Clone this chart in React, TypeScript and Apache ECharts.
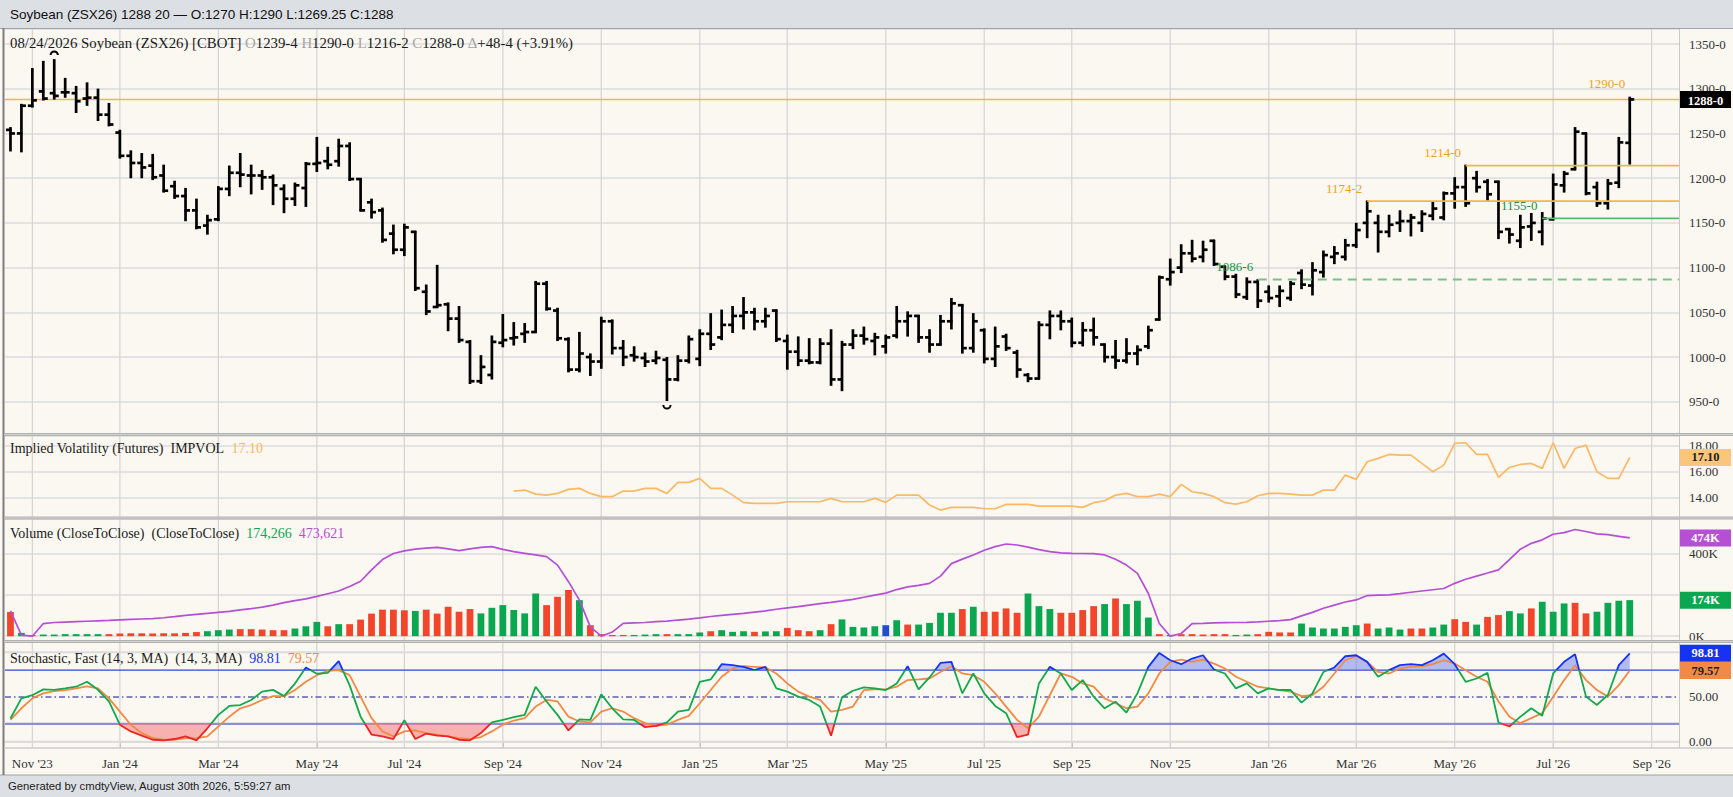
import React, { useEffect, useRef } from "react";
import * as echarts from "echarts";

// ---------- DATA ----------
const START_DATE = "2023-10-23"; // first weekly bar (Monday)
const CATEGORY_COUNT = 153; // 149 bars + 4 empty future weeks

// weekly OHLC [open, high, low, close]
const priceBars: number[][] = [
  [1254, 1256, 1231, 1250], [1250, 1282, 1230, 1281], [1281, 1322, 1280, 1287], [1297, 1330, 1288, 1289], [1295, 1332, 1289, 1292],
  [1296, 1311, 1291, 1296], [1295, 1302, 1274, 1286], [1289, 1306, 1282, 1290], [1290, 1299, 1265, 1271], [1271, 1283, 1259, 1260],
  [1251, 1253, 1223, 1225], [1225, 1230, 1201, 1217], [1217, 1227, 1201, 1212], [1214, 1226, 1199, 1201], [1203, 1214, 1185, 1186],
  [1191, 1196, 1178, 1180], [1180, 1188, 1153, 1164], [1164, 1176, 1144, 1145], [1147, 1158, 1138, 1153], [1154, 1190, 1153, 1188],
  [1188, 1213, 1181, 1206], [1206, 1227, 1191, 1204], [1203, 1214, 1183, 1203], [1203, 1208, 1188, 1201], [1201, 1203, 1171, 1192],
  [1188, 1192, 1162, 1177], [1177, 1194, 1170, 1192], [1189, 1217, 1169, 1216], [1216, 1245, 1208, 1217], [1219, 1234, 1211, 1215],
  [1219, 1243, 1214, 1236], [1236, 1239, 1198, 1199], [1199, 1199, 1164, 1164], [1173, 1176, 1156, 1162], [1164, 1166, 1129, 1131],
  [1138, 1147, 1116, 1120], [1120, 1148, 1114, 1145], [1140, 1140, 1075, 1077], [1073, 1080, 1048, 1051], [1056, 1102, 1056, 1058],
  [1059, 1060, 1030, 1043], [1043, 1056, 1017, 1019], [1017, 1018, 971, 973], [973, 1001, 971, 989], [980, 1023, 976, 1017],
  [1016, 1047, 1012, 1019], [1021, 1038, 1014, 1022], [1026, 1037, 1017, 1028], [1028, 1084, 1028, 1082], [1082, 1084, 1053, 1054],
  [1052, 1054, 1019, 1021], [1020, 1021, 984, 986], [986, 1027, 984, 1004], [1000, 1003, 980, 995], [995, 1044, 988, 1040],
  [1040, 1041, 1004, 1010], [1010, 1018, 991, 1000], [1002, 1011, 996, 1000], [999, 1004, 990, 995], [996, 1006, 993, 999],
  [997, 999, 952, 975], [975, 1001, 974, 996], [996, 1023, 994, 1020], [998, 1030, 991, 1026], [1026, 1048, 1009, 1014],
  [1022, 1052, 1020, 1036], [1036, 1056, 1028, 1046], [1046, 1066, 1032, 1050], [1050, 1054, 1031, 1040], [1040, 1054, 1034, 1046],
  [1052, 1052, 1018, 1020], [1018, 1024, 987, 1006], [1006, 1022, 991, 996], [996, 1020, 993, 994], [994, 1020, 993, 1015],
  [1015, 1030, 969, 975], [975, 1017, 963, 1014], [1014, 1030, 1010, 1024], [1024, 1033, 1015, 1020], [1018, 1026, 1003, 1022],
  [1012, 1024, 1005, 1022], [1024, 1056, 1022, 1040], [1040, 1050, 1024, 1046], [1046, 1046, 1017, 1022], [1022, 1030, 1006, 1014],
  [1014, 1046, 1014, 1040], [1040, 1065, 1032, 1060], [1058, 1058, 1005, 1010], [1010, 1048, 1006, 1040], [1030, 1031, 994, 998],
  [998, 1033, 990, 1012], [1023, 1025, 1008, 1010], [1005, 1007, 978, 986], [980, 981, 973, 976], [976, 1039, 976, 1036],
  [1036, 1051, 1021, 1046], [1046, 1051, 1031, 1040], [1040, 1043, 1012, 1016], [1016, 1038, 1013, 1030], [1030, 1043, 1014, 1022],
  [1014, 1014, 995, 1000], [1000, 1018, 988, 996], [996, 1020, 994, 1004], [1004, 1012, 992, 1008], [1012, 1034, 1010, 1030],
  [1042, 1090, 1042, 1089], [1087, 1109, 1081, 1095], [1100, 1125, 1095, 1116], [1116, 1130, 1107, 1110], [1112, 1129, 1107, 1120],
  [1130, 1130, 1103, 1104], [1101, 1101, 1087, 1090], [1090, 1092, 1067, 1070], [1067, 1088, 1065, 1084], [1084, 1086, 1056, 1063],
  [1073, 1079, 1062, 1066], [1068, 1079, 1057, 1074], [1066, 1084, 1064, 1082], [1094, 1097, 1077, 1081], [1080, 1105, 1070, 1097],
  [1095, 1118, 1090, 1114], [1112, 1123, 1105, 1116], [1112, 1131, 1109, 1125], [1125, 1149, 1123, 1142], [1150, 1174, 1134, 1163],
  [1150, 1158, 1118, 1140], [1140, 1158, 1135, 1148], [1150, 1163, 1141, 1152], [1152, 1159, 1136, 1156], [1150, 1163, 1141, 1160],
  [1158, 1173, 1154, 1166], [1156, 1184, 1154, 1183], [1183, 1200, 1167, 1190], [1190, 1214, 1169, 1172], [1200, 1207, 1185, 1190],
  [1196, 1198, 1176, 1182], [1196, 1196, 1133, 1140], [1143, 1143, 1128, 1137], [1130, 1158, 1123, 1145], [1146, 1160, 1131, 1150],
  [1140, 1161, 1126, 1155], [1154, 1204, 1154, 1193], [1192, 1207, 1185, 1205], [1210, 1256, 1210, 1252], [1250, 1250, 1182, 1183],
  [1190, 1195, 1169, 1172], [1172, 1198, 1166, 1194], [1195, 1245, 1190, 1240], [1239.5, 1290, 1216.25, 1288],
];

// weekly volume, thousands
const volumeK: number[] = [
  117, 16, 5, 8, 8, 10, 10, 10, 10, 10,
  13, 14, 14, 13, 14, 14, 16, 20, 24, 29,
  32, 34, 34, 32, 29, 29, 37, 48, 69, 48,
  58, 58, 80, 109, 128, 128, 125, 122, 128, 109,
  142, 118, 131, 110, 137, 150, 126, 110, 206, 150,
  190, 223, 174, 53, 10, 6, 6, 6, 8, 10,
  10, 10, 10, 18, 24, 29, 21, 24, 21, 23,
  24, 40, 29, 24, 29, 58, 81, 45, 42, 48,
  53, 77, 56, 56, 64, 113, 113, 131, 142, 118,
  118, 134, 113, 206, 145, 131, 113, 113, 126, 145,
  155, 182, 155, 171, 90, 10, 6, 10, 10, 8,
  10, 10, 6, 8, 10, 21, 18, 18, 61, 42,
  37, 37, 45, 53, 61, 37, 42, 32, 37, 37,
  42, 56, 82, 69, 56, 93, 102, 121, 110, 134,
  166, 118, 158, 161, 110, 118, 161, 171, 174,
];
// close-to-close colour of each volume bar: G up, R down, B unchanged
const volumeDir =
  "RGRGGGGGGR" + "RRRRRRRRGG" + "GRRRRRGGGR" + "GRRRRRRGRR" + "RRRGGGGGGR" +
  "RRGRRRRGGG" + "RGGGRGGGRG" + "GRRRGRGGGG" + "BGRGGGGRGR" + "RRRGGGRRRR" +
  "GRGGGRGRRR" + "RRGGRRRRGG" + "GGGGRGGGRR" + "GGRRGRRGGR" + "GGGRRGGGG";

// open interest, thousands
const openInterestK: number[] = [
  122, 5, 0, 61, 66, 68, 70, 72, 74, 76,
  79, 81, 83, 85, 89, 94, 100, 105, 110, 115,
  120, 127, 133, 140, 150, 162, 172, 180, 192, 205,
  218, 240, 265, 320, 370, 399, 412, 420, 425, 429,
  421, 413, 421, 429, 432, 419, 408, 400, 392, 384,
  343, 263, 174, 45, 0, 20, 62, 64, 66, 70,
  73, 78, 82, 88, 95, 100, 105, 110, 116, 122,
  130, 137, 143, 150, 157, 163, 170, 178, 188, 198,
  208, 225, 238, 245, 255, 290, 350, 372, 392, 415,
  432, 445, 440, 430, 418, 408, 402, 400, 399, 398,
  392, 371, 343, 303, 206, 61, 0, 13, 61, 62,
  64, 65, 66, 67, 69, 72, 75, 80, 98, 115,
  135, 150, 165, 175, 196, 198, 199, 205, 212, 218,
  224, 230, 255, 275, 290, 305, 320, 370, 420, 448,
  465, 492, 500, 515, 505, 494, 490, 482, 474,
];

// implied volatility, starting at week index IV_START
const IV_START = 46;
const impliedVol: number[] = [
  14.51, 14.59, 14.28, 14.2, 14.33, 14.64, 14.72, 14.33, 14.08, 14.08,
  14.51, 14.51, 14.72, 14.72, 14.33, 15.18, 15.18, 15.49, 14.72, 14.72,
  14.2, 13.62, 13.56, 13.56, 13.56, 13.69, 13.69, 13.69, 13.69, 13.95,
  13.69, 13.69, 13.69, 13.95, 13.64, 14.2, 14.2, 14.2, 13.44, 13.05,
  13.26, 13.26, 13.26, 13.15, 13.15, 13.49, 13.49, 13.49, 13.36, 13.36,
  13.36, 13.36, 13.26, 13.62, 13.77, 14.2, 14.33, 14.08, 14.08, 14.28,
  14.08, 15.03, 14.46, 14.33, 14.08, 13.62, 13.51, 13.69, 14.15, 14.33,
  14.33, 14.28, 14.2, 14.2, 14.59, 14.59, 15.74, 15.41, 16.77, 17.03,
  17.33, 17.28, 17.28, 16.64, 16.0, 16.51, 18.18, 18.23, 17.33, 17.33,
  15.56, 16.33, 16.56, 16.64, 16.26, 18.23, 16.26, 17.79, 18.05, 16.0,
  15.49, 15.49, 17.1,
];

// Stochastic fast %K and %D
const stochK: number[] = [
  26, 48.5, 52, 58.5, 58, 59.6, 61.5, 67, 58, 45,
  19, 11.5, 6.7, 2.2, 1.5, 3, 6, 1.5, 15, 30,
  40, 41, 46.7, 56, 58, 51, 65, 83, 76, 77,
  90, 63, 28, 8, 6, 3, 24, 3, 9, 6.7,
  6, 2.2, 1.5, 9.6, 21.5, 24.4, 27.4, 30, 61.5, 45,
  30, 12.6, 25, 24.4, 53, 37.4, 25, 24.4, 16.3, 17.8,
  21.5, 33.7, 35.6, 67, 69.6, 86.7, 85.6, 83.7, 80, 83.7,
  59.6, 56, 50.4, 46.7, 39.3, 6.7, 49.6, 57, 60.7, 59.6,
  57.8, 65.2, 84.4, 58.5, 71.9, 88.1, 89.3, 54, 76.3, 54,
  40, 31.9, 5.2, 7.8, 65.2, 83.7, 76.3, 57.8, 68.9, 50.4,
  37.4, 44.8, 32.6, 54, 83.7, 99.3, 91.1, 86.7, 93, 96.7,
  80.7, 76.3, 59.6, 65.2, 54, 59.6, 57.8, 57.8, 43.7, 54,
  78, 83, 95.6, 96.7, 89.3, 72.6, 80, 85.6, 86.7, 85.6,
  91.1, 98.5, 86.7, 67, 70.7, 77, 21.5, 17, 28, 37.4,
  29, 76.3, 89.3, 97.8, 50.4, 41.1, 52.2, 85.6, 98.81,
];
const stochD: number[] = [
  24.4, 37.4, 48.5, 54, 56.7, 57.8, 59.6, 62, 59.6, 48.5,
  33.7, 19, 9.6, 4, 2.2, 2.2, 3.7, 4, 6, 17,
  28, 37.4, 41, 46.7, 51, 51, 57.8, 67, 74.4, 79.3,
  80, 74.4, 50.4, 26.3, 11.5, 6, 11.5, 12.6, 9.6, 7.8,
  6, 4, 3, 5.2, 11.5, 19, 23.7, 26.3, 39.3, 46.7,
  45, 28, 22.6, 21.5, 33.7, 37.4, 33.7, 26.3, 20.7, 17.8,
  19, 24.4, 28.9, 43, 57.8, 72.6, 81.9, 84.4, 83.7, 83,
  76.3, 65.2, 56, 50.4, 46.7, 33.7, 35.6, 39.3, 57.8, 58.5,
  58.5, 61.5, 68.9, 69.6, 70.7, 78, 84.4, 76.3, 74.4, 67,
  54, 39.3, 24.4, 15, 28, 52.2, 76.3, 72.6, 65.2, 61.5,
  48.5, 43, 37.4, 39.3, 54, 76.3, 89.3, 91.9, 89.3, 91.9,
  87.4, 81.9, 72.6, 67, 61.5, 59.6, 57.8, 56, 51, 52.2,
  61.5, 76.3, 91.1, 95.6, 89.3, 78, 76.3, 81.9, 83.7, 84.4,
  86.7, 91.1, 87.4, 80, 72.6, 67, 45, 28, 20.7, 26.3,
  31.9, 50.4, 68.9, 85.6, 68.9, 57.8, 50.4, 63.3, 79.57,
];

// marked price levels (week index where the line starts)
const priceMarks = [
  { idx: 114, value: 1086.75, line: "#7dbf8c", text: "#1d8f3e", dashed: true },
  { idx: 124, value: 1174.25, line: "#f8b445", text: "#f3a11b", dashed: false },
  { idx: 133, value: 1214, line: "#f8b445", text: "#f3a11b", dashed: false },
  { idx: 140, value: 1155, line: "#5cb86b", text: "#1d8f3e", dashed: false },
];
const LAST_PRICE = 1288;
const LAST_HIGH = 1290;
const stochLevels = [
  { v: 100, color: "#dcdcdc", width: 2, dash: null as any },
  { v: 0, color: "#dcdcdc", width: 2, dash: null as any },
  { v: 80, color: "#3246d3", width: 1.3, dash: null as any },
  { v: 20, color: "#8a8fd8", width: 2.2, dash: null as any },
  { v: 50, color: "#5b5fae", width: 1.3, dash: [6, 3, 1.5, 3] as any },
];
const stochTickLabels = [0, 50];
const MONTHS = ["Jan", "Feb", "Mar", "Apr", "May", "Jun", "Jul", "Aug", "Sep", "Oct", "Nov", "Dec"];

// ---------- derived categories ----------
const dates: string[] = [];
{
  const t0 = Date.parse(START_DATE + "T00:00:00Z");
  for (let i = 0; i < CATEGORY_COUNT; i++) dates.push(new Date(t0 + i * 7 * 86400000).toISOString().slice(0, 10));
}
const tickIdx: number[] = [];
dates.forEach((s, i) => {
  const m = +s.slice(5, 7);
  const d = +s.slice(8, 10);
  if (m % 2 === 1 && d <= 7) tickIdx.push(i);
});
const tickSet = new Set(tickIdx);
const tickFn = (index: number) => tickSet.has(index);
const fmtDate = (s: string) => `${MONTHS[+s.slice(5, 7) - 1]} '${s.slice(2, 4)}`;
const fmtPrice = (v: number) => {
  const w = Math.floor(v + 1e-9);
  return `${w}-${Math.round((v - w) * 8)}`;
};

let HIGH_IDX = 0;
let LOW_IDX = 0;
priceBars.forEach((b, i) => {
  if (b[1] > priceBars[HIGH_IDX][1]) HIGH_IDX = i;
  if (b[2] < priceBars[LOW_IDX][2]) LOW_IDX = i;
});

// ---------- layout ----------
const W = 1733;
const H = 797;
const PLOT_L = 5;
const PLOT_R = 1679;
const SERIF = '"Liberation Serif", "Times New Roman", serif';
const SANS = '"Liberation Sans", Arial, Helvetica, sans-serif';
const gridDefs = [
  { top: 29, bottom: 435, min: 912.88, max: 1366.77, split: 9 },
  { top: 436, bottom: 518, min: 12.44, max: 18.75, split: 3 },
  { top: 519, bottom: 641, min: -23.2, max: 565.5, split: 3 },
  { top: 643, bottom: 748, min: -7.05, max: 110.4, split: 2 },
];

const GREEN = "#0ba650";
const RED = "#f1462c";
const BLUE_BAR = "#1f4fd1";
const PURPLE = "#b54fd3";
const IV_COLOR = "#fbb965";
const K_BLUE = "#1733f2";
const D_ORANGE = "#f28a45";
const CLEAR = "rgba(255,255,255,0)";

function renderBar(params: any, api: any) {
  const i = api.value(0);
  const o = api.value(1);
  const h = api.value(2);
  const l = api.value(3);
  const c = api.value(4);
  const top = api.coord([i, h]);
  const bot = api.coord([i, l]);
  const yo = api.coord([i, o])[1];
  const yc = api.coord([i, c])[1];
  const x = top[0];
  const st = { stroke: "#000", lineWidth: 2.7 };
  const children: any[] = [
    { type: "line", shape: { x1: x, y1: top[1] - 1, x2: x, y2: bot[1] + 1 }, style: st },
    { type: "line", shape: { x1: x - 4.5, y1: yo, x2: x + 1, y2: yo }, style: st },
    { type: "line", shape: { x1: x - 1, y1: yc, x2: x + 4.5, y2: yc }, style: st },
  ];
  if (i === HIGH_IDX) {
    children.push({
      type: "arc",
      shape: { cx: x, cy: top[1] - 5, r: 3.6, startAngle: Math.PI, endAngle: Math.PI * 2 },
      style: { stroke: "#000", lineWidth: 2, fill: "none" },
    });
  }
  if (i === LOW_IDX) {
    children.push({
      type: "arc",
      shape: { cx: x, cy: bot[1] + 5, r: 3.6, startAngle: 0, endAngle: Math.PI },
      style: { stroke: "#000", lineWidth: 2, fill: "none" },
    });
  }
  return { type: "group", children };
}

function buildOption(): any {
  const axisLabelBase = { color: "#333", fontFamily: SERIF, fontSize: 13, margin: 10, align: "left", showMinLabel: true, showMaxLabel: true };
  const yFormatters = [
    (v: number) => (Math.abs(v % 50) < 1e-6 ? fmtPrice(v) : ""),
    (v: number) => (Math.abs(v % 2) < 1e-6 ? v.toFixed(2) : ""),
    (v: number) => (Math.abs(v) < 1e-6 || Math.abs(v - 400) < 1e-6 ? `${Math.round(v)}K` : ""),
    (v: number) => "",
  ];
  const kData = stochK.map((v, i) => [i, v]);
  const dData = stochD.map((v, i) => [i, v]);
  return {
    animation: false,
    backgroundColor: "#faf8f1",
    grid: gridDefs.map((g) => ({ left: PLOT_L, width: PLOT_R - PLOT_L, top: g.top, height: g.bottom - g.top, containLabel: false })),
    xAxis: gridDefs.map((g, gi) => ({
      type: "category",
      gridIndex: gi,
      data: dates,
      boundaryGap: true,
      axisLine: { show: gi === 3, lineStyle: { color: "#cfcfcf", width: 1.5 } },
      axisTick: { show: gi === 3, alignWithLabel: true, interval: tickFn, length: 6, lineStyle: { color: "#b5b5b5" } },
      axisLabel: { show: gi === 3, interval: tickFn, formatter: fmtDate, color: "#333", fontFamily: SERIF, fontSize: 13, margin: 9 },
      splitLine: { show: false },
    })),
    yAxis: gridDefs.map((g, gi) => ({
      type: "value",
      gridIndex: gi,
      position: "right",
      min: g.min,
      max: g.max,
      splitNumber: g.split,
      axisLine: { show: false },
      axisTick: { show: false },
      axisLabel: { ...axisLabelBase, show: gi !== 3, formatter: yFormatters[gi] },
      splitLine: { show: gi !== 3, lineStyle: { color: "#e3e3e3", width: 2 } },
    })),
    visualMap: [
      {
        type: "piecewise", show: false, seriesIndex: 6, dimension: 1,
        pieces: [{ lt: 20, color: "#ee2424" }, { gte: 20, lte: 80, color: "#13a84c" }, { gt: 80, color: K_BLUE }],
      },
      {
        type: "piecewise", show: false, seriesIndex: 4, dimension: 1,
        pieces: [{ lte: 80, color: CLEAR }, { gt: 80, lte: 1000, color: "rgba(104,126,238,0.5)" }],
      },
      {
        type: "piecewise", show: false, seriesIndex: 5, dimension: 1,
        pieces: [{ gte: -1000, lt: 20, color: "rgba(245,130,130,0.6)" }, { gte: 20, color: CLEAR }],
      },
    ],
    series: [
      {
        type: "custom",
        name: "Soybean",
        xAxisIndex: 0,
        yAxisIndex: 0,
        data: priceBars.map((b, i) => [i, b[0], b[1], b[2], b[3]]),
        encode: { x: 0, y: [1, 2, 3, 4] },
        renderItem: renderBar,
        z: 4,
      },
      {
        type: "line",
        name: "IMPVOL",
        xAxisIndex: 1,
        yAxisIndex: 1,
        data: impliedVol.map((v, k) => [IV_START + k, v]),
        symbol: "none",
        lineStyle: { color: IV_COLOR, width: 1.7 },
      },
      {
        type: "bar",
        name: "Volume",
        xAxisIndex: 2,
        yAxisIndex: 2,
        barWidth: "62%",
        data: volumeK.map((v, i) => ({
          value: v,
          itemStyle: { color: volumeDir[i] === "G" ? GREEN : volumeDir[i] === "R" ? RED : BLUE_BAR },
        })),
      },
      {
        type: "line",
        name: "Open Interest",
        xAxisIndex: 2,
        yAxisIndex: 2,
        data: openInterestK,
        symbol: "none",
        lineStyle: { color: PURPLE, width: 1.7 },
        z: 3,
      },
      {
        type: "line",
        name: "K above",
        xAxisIndex: 3,
        yAxisIndex: 3,
        data: kData,
        symbol: "none",
        silent: true,
        lineStyle: { opacity: 0, width: 0 },
        areaStyle: { origin: "start", opacity: 1 },
        z: 2,
      },
      {
        type: "line",
        name: "K below",
        xAxisIndex: 3,
        yAxisIndex: 3,
        data: kData,
        symbol: "none",
        silent: true,
        lineStyle: { opacity: 0, width: 0 },
        areaStyle: { origin: "end", opacity: 1 },
        z: 2,
      },
      {
        type: "line",
        name: "%K",
        xAxisIndex: 3,
        yAxisIndex: 3,
        data: kData,
        symbol: "none",
        lineStyle: { width: 1.8 },
        z: 5,
      },
      {
        type: "line",
        name: "%D",
        xAxisIndex: 3,
        yAxisIndex: 3,
        data: dData,
        symbol: "none",
        lineStyle: { color: D_ORANGE, width: 1.8 },
        z: 4,
      },
    ],
  };
}

function textEl(x: number, y: number, text: string, font: string, fill: string, align = "left", z = 20, extra: any = {}) {
  return {
    type: "text",
    x,
    y,
    z,
    silent: true,
    style: { text, font, fill, align, textAlign: align, verticalAlign: "middle", textVerticalAlign: "middle", ...extra },
  };
}

function lineEl(x1: number, y1: number, x2: number, y2: number, stroke: string, lineWidth: number, z = 15, dash: any = null) {
  const style: any = { stroke, lineWidth };
  if (dash) style.lineDash = dash;
  return { type: "line", z, silent: true, shape: { x1, y1, x2, y2 }, style };
}

function boxEl(y: number, text: string, bg: string, fg: string, textDy = 0) {
  return [
    { type: "rect", z: 30, silent: true, shape: { x: 1680, y: y - 8.5, width: 51, height: 17 }, style: { fill: bg } },
    textEl(1705.5, y + textDy, text, `bold 12.5px ${SERIF}`, fg, "center", 31),
  ];
}

function buildGraphics(chart: any): any[] {
  const P = (g: number, i: number, v: number): number[] => {
    const r = chart.convertToPixel({ xAxisIndex: g, yAxisIndex: g }, [i, v]);
    return Array.isArray(r) ? r : [0, 0];
  };
  const els: any[] = [];

  // vertical month grid lines
  gridDefs.forEach((g, gi) => {
    tickIdx.forEach((i) => {
      const x = P(gi, i, g.min)[0];
      els.push(lineEl(x, g.top, x, g.bottom, "#d6d6d6", 1.3, 1));
    });
  });

  // stochastic reference levels and their labels
  stochLevels.forEach((s) => {
    const y = P(3, 0, s.v)[1];
    els.push(lineEl(PLOT_L, y, PLOT_R, y, s.color, s.width, 1, s.dash));
  });
  stochTickLabels.forEach((v) => {
    const y = P(3, 0, v)[1];
    els.push(textEl(PLOT_R + 10, y, v.toFixed(2), `13px ${SERIF}`, "#333", "left", 20));
  });

  // last price line
  {
    const y = P(0, 0, LAST_PRICE)[1];
    els.push(lineEl(PLOT_L, y, PLOT_R, y, "#f8b445", 1.6, 2));
  }

  // title bar & footer
  els.push({ type: "rect", z: 10, silent: true, shape: { x: 0, y: 0, width: W, height: 28 }, style: { fill: "#dcdfe3" } });
  els.push(lineEl(0, 28.5, W, 28.5, "#9ea3a8", 1, 11));
  els.push(textEl(10, 14.5, "Soybean (ZSX26) 1288 20 \u2014 O:1270 H:1290 L:1269.25 C:1288", `13.5px ${SANS}`, "#111"));
  els.push({ type: "rect", z: 10, silent: true, shape: { x: 0, y: 775, width: W, height: 22 }, style: { fill: "#dcdfe3" } });
  els.push(lineEl(0, 775, W, 775, "#9ea3a8", 1, 11));
  els.push(textEl(8, 786, "Generated by cmdtyView, August 30th 2026, 5:59:27 am", `11.3px ${SANS}`, "#222"));

  // frame and separators
  els.push(lineEl(3.5, 28, 3.5, 775, "#7d7d7d", 2, 12));
  els.push(lineEl(PLOT_R + 0.5, 29, PLOT_R + 0.5, 748, "#c9c9c9", 1, 12));
  [434.5, 518, 641.5].forEach((y) => {
    els.push(lineEl(4, y, W, y, "#b1b1b1", 3, 12));
    els.push(lineEl(4, y, W, y, "#d9d9d9", 0.8, 13));
  });
  els.push(lineEl(4, 748, W, 748, "#cdcdcd", 1.5, 12));

  // panel captions
  const rich = (extra: any, size = 14) => ({ d: { fill: "#1a1a1a", font: `${size}px ${SERIF}` }, g: { fill: "#a3a3a3", font: `${size}px ${SERIF}` }, ...extra });
  els.push(
    textEl(10, 43, "", `14.8px ${SERIF}`, "#1a1a1a", "left", 20, {
      text:
        "{d|08/24/2026 Soybean (ZSX26) [CBOT] }{g|O}{d|1239-4 }{g|H}{d|1290-0 }{g|L}{d|1216-2 }{g|C}{d|1288-0 }{g|\u0394}{d|+48-4 (+3.91%)}",
      rich: rich({}, 14.8),
    })
  );
  els.push(
    textEl(10, 448, "", `14px ${SERIF}`, "#1a1a1a", "left", 20, {
      text: "{d|Implied Volatility (Futures)  IMPVOL  }{o|17.10}",
      rich: rich({ o: { fill: IV_COLOR, font: `14px ${SERIF}` } }),
    })
  );
  els.push(
    textEl(10, 533, "", `14px ${SERIF}`, "#1a1a1a", "left", 20, {
      text: "{d|Volume (CloseToClose)  (CloseToClose)  }{gr|174,266}{d|  }{p|473,621}",
      rich: rich({ gr: { fill: GREEN, font: `14px ${SERIF}` }, p: { fill: PURPLE, font: `14px ${SERIF}` } }),
    })
  );
  els.push(
    textEl(10, 658, "", `14px ${SERIF}`, "#1a1a1a", "left", 20, {
      text: "{d|Stochastic, Fast (14, 3, MA)  (14, 3, MA)  }{b|98.81}{d|  }{o|79.57}",
      rich: rich({ b: { fill: K_BLUE, font: `14px ${SERIF}` }, o: { fill: D_ORANGE, font: `14px ${SERIF}` } }),
    })
  );

  // marked price levels
  priceMarks.forEach((m) => {
    const [x, y] = P(0, m.idx, m.value);
    els.push(lineEl(x, y, PLOT_R, y, m.line, 1.8, 5, m.dashed ? [9, 6] : null));
    els.push(textEl(x - 23, y - 13, fmtPrice(m.value), `13px ${SERIF}`, m.text, "center", 6));
  });
  const lastIdx = priceBars.length - 1;
  {
    const [x, y] = P(0, lastIdx, LAST_HIGH);
    els.push(textEl(x - 23, y - 14, fmtPrice(LAST_HIGH), `13px ${SERIF}`, "#f3a11b", "center", 6));
  }

  // right-hand value boxes
  els.push(...boxEl(P(0, lastIdx, LAST_PRICE)[1], fmtPrice(LAST_PRICE), "#000", "#fff", 1.5));
  els.push(...boxEl(P(1, lastIdx, impliedVol[impliedVol.length - 1])[1], impliedVol[impliedVol.length - 1].toFixed(2), "#fbc57c", "#222"));
  els.push(...boxEl(P(2, lastIdx, openInterestK[lastIdx])[1], `${openInterestK[lastIdx]}K`, PURPLE, "#fff"));
  els.push(...boxEl(P(2, lastIdx, volumeK[lastIdx])[1], `${volumeK[lastIdx]}K`, GREEN, "#fff"));
  els.push(...boxEl(P(3, lastIdx, stochK[lastIdx])[1], stochK[lastIdx].toFixed(2), K_BLUE, "#fff"));
  els.push(...boxEl(P(3, lastIdx, stochD[lastIdx])[1], stochD[lastIdx].toFixed(2), D_ORANGE, "#222"));

  return els;
}

export default function App() {
  const ref = useRef<HTMLDivElement>(null);
  useEffect(() => {
    if (!ref.current) return;
    const chart = echarts.init(ref.current, undefined, { renderer: "svg", width: W, height: H });
    try {
      chart.setOption(buildOption());
    } catch (e) {
      console.error("main option failed", e);
    }
    try {
      chart.setOption({ graphic: { elements: buildGraphics(chart) } });
    } catch (e) {
      console.error("graphic failed", e);
    }
    return () => chart.dispose();
  }, []);
  return <div ref={ref} style={{ position: "absolute", left: 0, top: 0, width: W, height: H }} />;
}
